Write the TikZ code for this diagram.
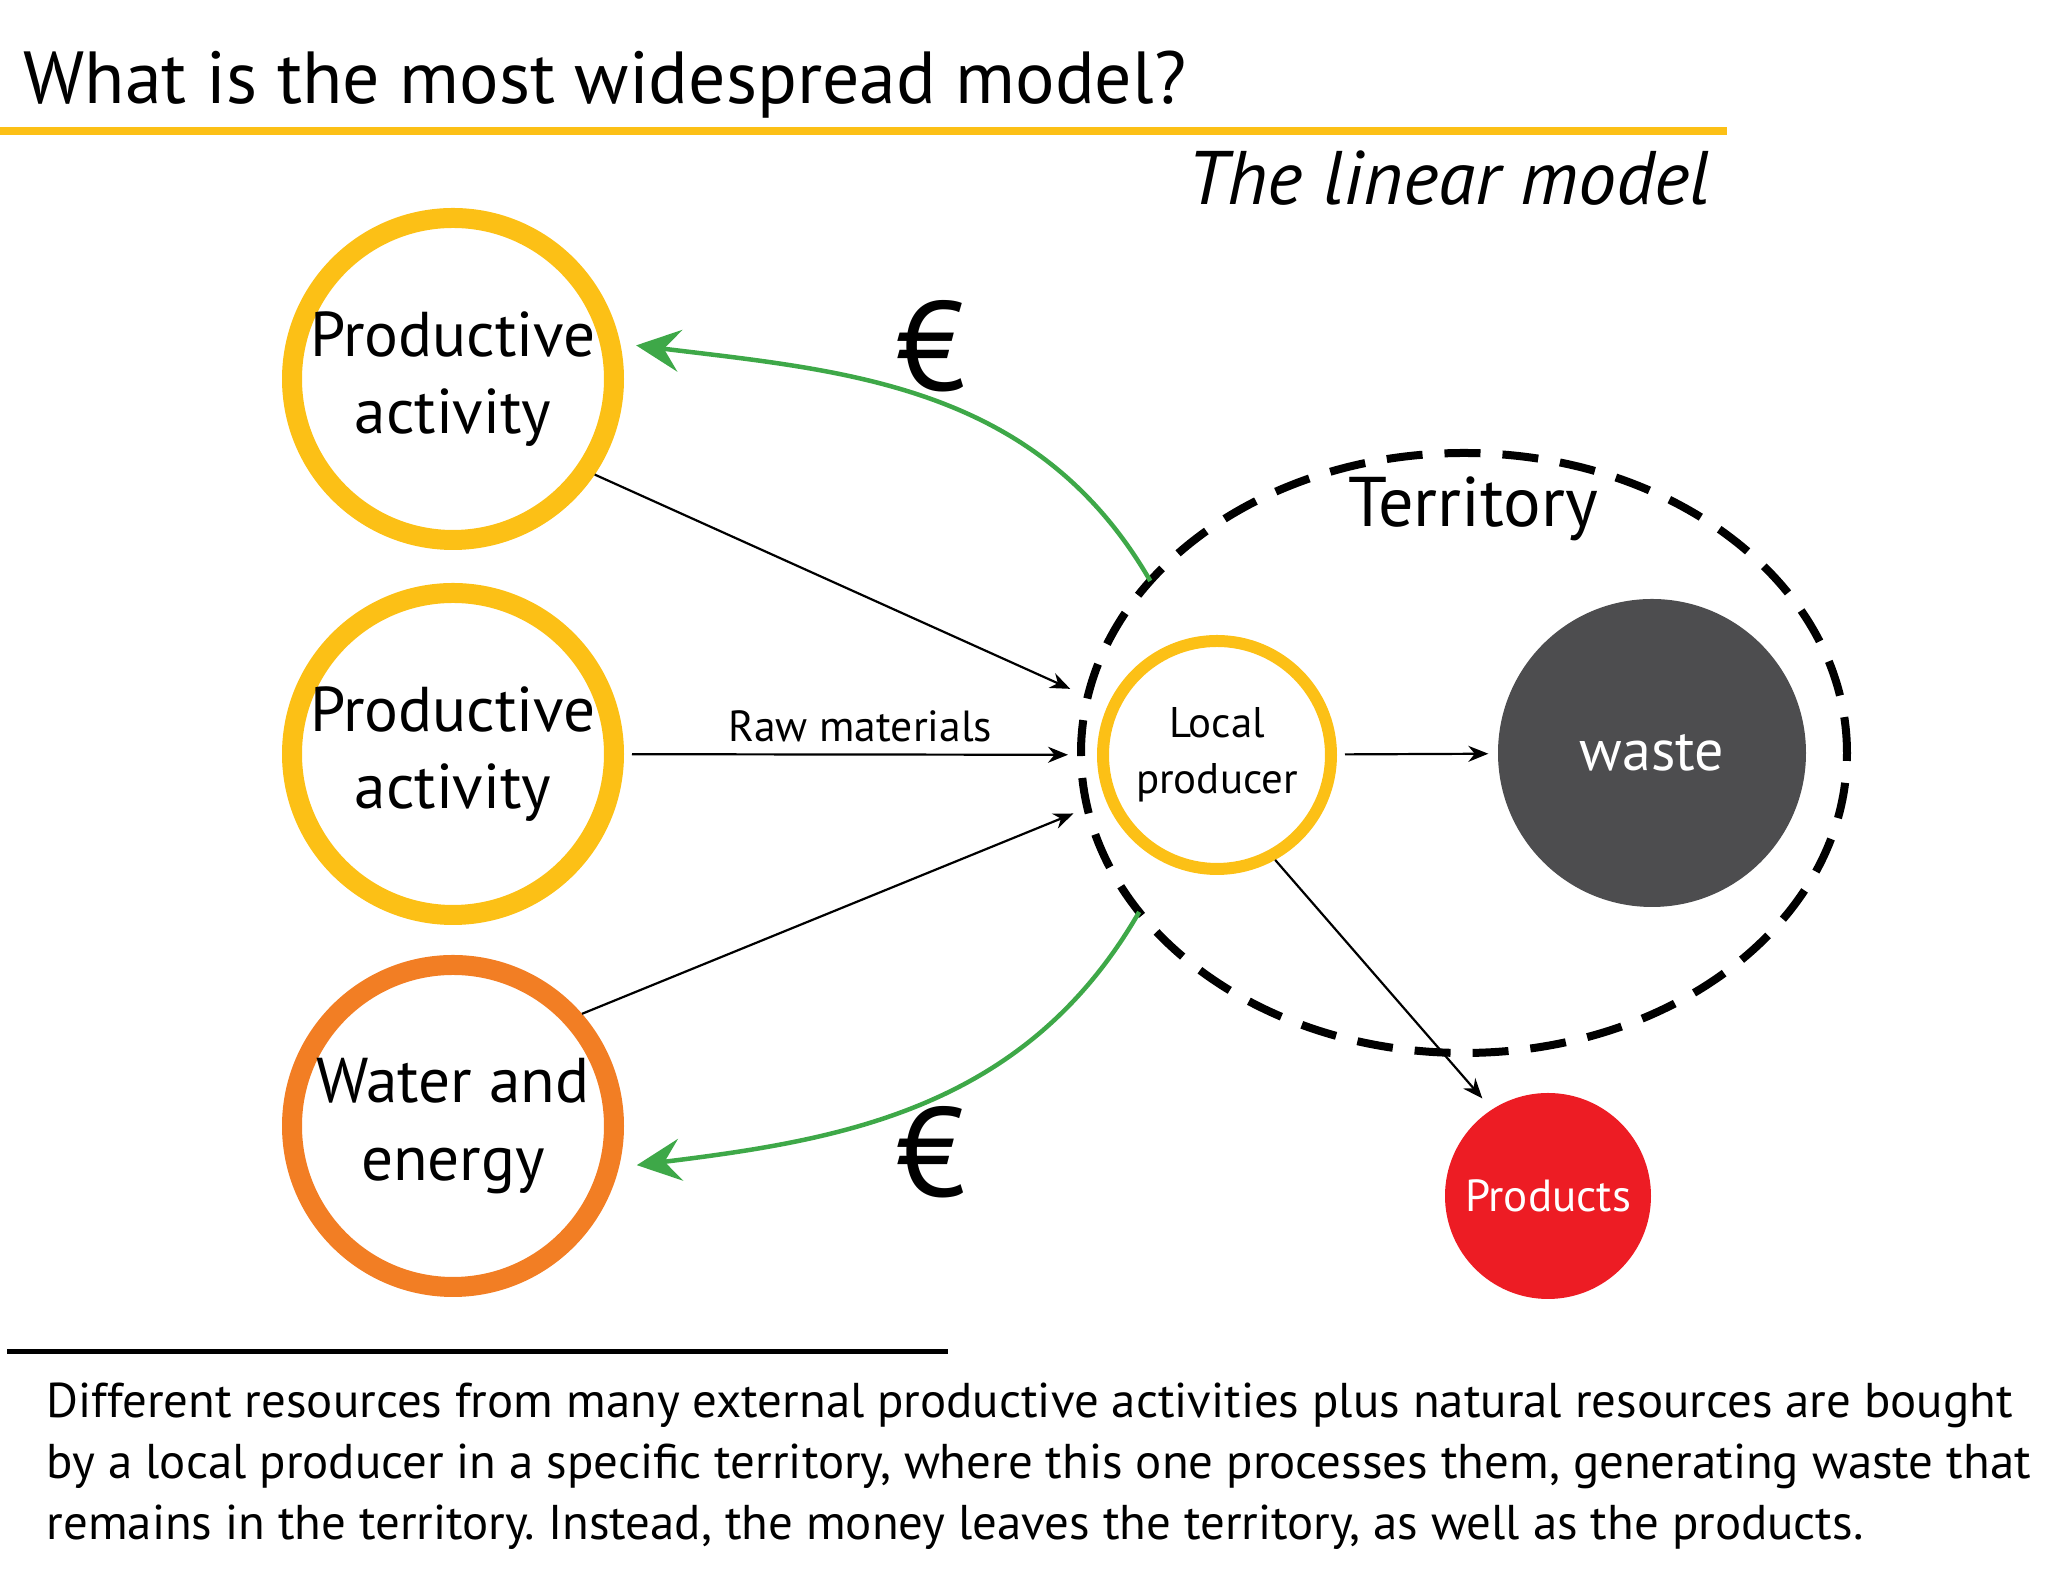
\documentclass[tikz,border=0pt]{standalone}
\usepackage{fontspec}
\setmainfont{PT Sans}
\usetikzlibrary{arrows.meta,calc,positioning}

\definecolor{sunyellow}{RGB}{252,192,22}
\definecolor{flameorange}{RGB}{242,126,36}
\definecolor{moneygreen}{RGB}{62,168,72}
\definecolor{wastegray}{RGB}{77,77,79}
\definecolor{prodred}{RGB}{237,28,36}

\begin{document}
\frenchspacing
\begin{tikzpicture}[scale=1.0,
    source/.style={circle,draw=sunyellow,line width=0.2cm,minimum size=3.22cm,
      inner sep=0pt,align=center,font=\fontsize{18}{22}\selectfont},
    flow/.style={-{Stealth[length=0.2cm,width=0.16cm]},line width=0.022cm},
    money/.style={-{Stealth[length=0.44cm,width=0.42cm,inset=0.16cm]},
      moneygreen,line width=0.045cm},
    euro/.style={font=\fontsize{36}{40}\selectfont},
  ]
  \useasboundingbox (0,0) rectangle (20.48,15.82);

  % Title
  \node[anchor=base west,inner sep=0pt,font=\fontsize{21}{25}\selectfont]
    (title) at (0.23,14.78) {What is the most widespread model?};
  \draw[sunyellow,line width=0.08cm] (0,14.51) -- (17.27,14.51);
  \node[anchor=base east,inner sep=0pt,font=\fontsize{21.6}{25}\selectfont\itshape]
    (subtitle) at (17.11,13.77) {The linear model};

  % Territory
  \coordinate (terr) at (14.64,8.29);
  \draw[line width=0.08cm,dash pattern=on 0.36cm off 0.22cm]
    (terr) ellipse (3.83 and 3.00);
  \node[font=\fontsize{20}{24}\selectfont] (terrlabel) at (14.73,10.73) {Territory};

  % Sources
  \node[source] (pa1) at (4.53,12.03) {Productive\\activity};
  \node[source] (pa2) at (4.53,8.28) {Productive\\activity};
  \node[source,draw=flameorange] (we) at (4.53,4.56) {Water and\\energy};

  % Local producer, waste and products
  \node[circle,draw=sunyellow,line width=0.12cm,minimum size=2.28cm,inner sep=0pt,
    align=center,font=\fontsize{12.2}{16}\selectfont] (lp) at (12.17,8.27) {Local\\producer};
  \node[circle,fill=wastegray,minimum size=3.08cm,text=white,
    font=\fontsize{16.5}{20}\selectfont] (waste) at (16.52,8.29) {waste};
  \node[circle,fill=prodred,minimum size=2.06cm,text=white,
    font=\fontsize{12.8}{16}\selectfont] (prod) at (15.48,3.86) {Products};

  % Material flows
  \draw[flow] (pa1.-34) -- (lp) [shorten >=0.41cm];
  \draw[flow,shorten <=0.08cm,shorten >=0.29cm] (pa2) -- (lp)
    node[midway,above,font=\fontsize{12.4}{16}\selectfont] (raw) {Raw materials};
  \draw[flow,shorten >=0.35cm] (we.41) -- (lp);
  \draw[flow,shorten <=0.08cm,shorten >=0.09cm] (lp) -- (waste);
  \draw[flow,shorten >=0.14cm] (lp.-61) -- (prod.123);

  % Money flows
  \path (terr) ++(145:3.83 and 3.00) coordinate (pay1);
  \path (terr) ++(212:3.83 and 3.00) coordinate (pay2);
  \draw[money,shorten >=0.16cm] (pay1) to[out=120,in=-7] (pa1.12);
  \draw[money,shorten >=0.18cm] (pay2) to[out=-120,in=7] (we.-14);
  \node[euro] (eur1) at (9.31,12.36) {€};
  \node[euro] (eur2) at (9.31,4.30) {€};

  % Caption
  \draw[line width=0.05cm] (0.07,2.30) -- (9.48,2.30);
  \node[anchor=base west,inner sep=0pt,align=left,
    font=\fontsize{13.9}{17.4}\selectfont] (caption) at (0.46,0.42)
    {Different resources from many external productive activities plus natural resources are bought\\
     by a local producer in a specific territory, where this one processes them, generating waste that\\
     remains in the territory. Instead, the money leaves the territory, as well as the products.};
\end{tikzpicture}
\end{document}
